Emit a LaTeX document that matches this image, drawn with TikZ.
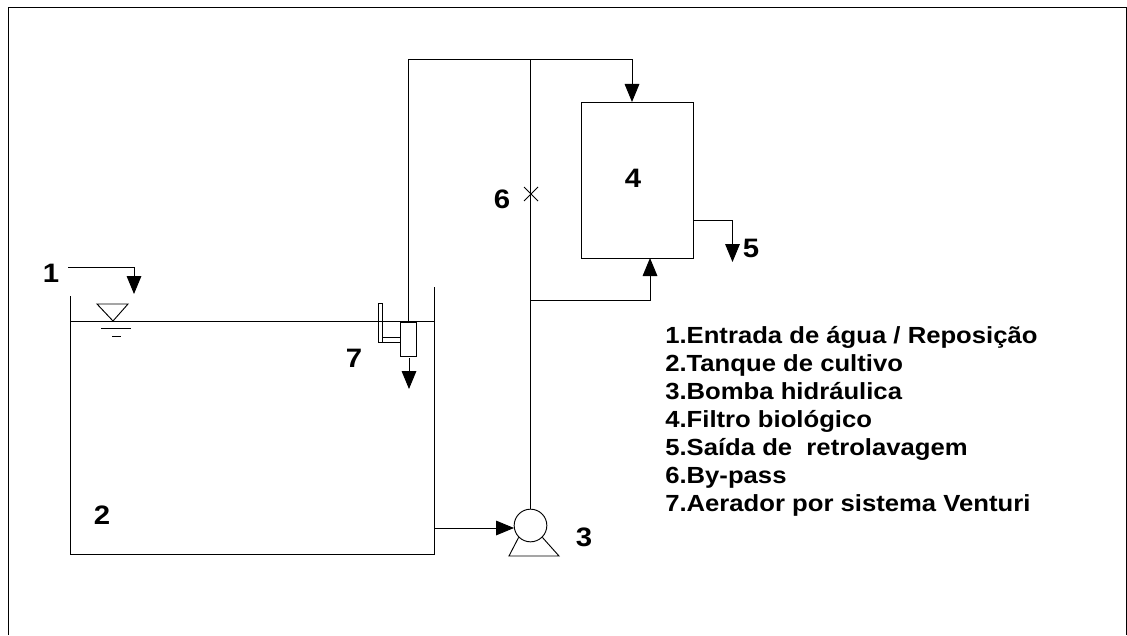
\documentclass[tikz,border=0pt]{standalone}
\usepackage{fontspec}
\setmainfont[FakeStretch=1.1]{Liberation Sans}
\usetikzlibrary{arrows.meta}
\tikzstyle{num} = [inner sep=0pt, font=\fontsize{20}{20}\selectfont\bfseries]
\tikzstyle{legend} = [inner sep=0pt, anchor=base west, font=\fontsize{17.5}{17.5}\selectfont\bfseries]
\tikzstyle{unit} = [rectangle, draw=black, fill=white, inner sep=0pt, line width=0.7pt]
\tikzstyle{pipe} = [line width=0.7pt]
\tikzstyle{edge} = [line width=0.7pt, -{Triangle[length=13.5pt,width=11pt]}]

\begin{document}
\begin{tikzpicture}[x=0.75pt, y=-0.75pt]
\useasboundingbox (0,0) rectangle (1127,635);

% moldura
\draw [line width=0.75pt] (8,635) -- (8,8) -- (1126,8) -- (1126,635);

% tanque
\coordinate (tankTL) at (70,296);
\coordinate (tankBL) at (70,554);
\coordinate (tankBR) at (434,554);
\coordinate (tankTR) at (434,287);
\draw [pipe] (tankTL) -- (tankBL) -- (tankBR) -- (tankTR);
\coordinate (levelL) at (70,321);
\coordinate (levelR) at (434,321);
\draw [pipe] (levelL) -- (levelR);

% nivel
\coordinate (triA) at (97,304);
\coordinate (triB) at (128,304);
\coordinate (triC) at (113,321);
\draw [pipe] (triA) -- (triB) -- (triC) -- cycle;
\coordinate (lineA) at (101,328);
\coordinate (lineB) at (131,328);
\coordinate (lineC) at (112,336);
\coordinate (lineD) at (121,336);
\draw [pipe] (lineA) -- (lineB);
\draw [pipe] (lineC) -- (lineD);

% filtro
\node (4) [unit, minimum width=84pt, minimum height=117pt] at (637.3,180) {};
\node (n4) [num] at (633,178) {4};

% bomba
\node (3) [circle, draw=black, pipe, fill=white, inner sep=0pt, minimum size=24.5pt] at (530.5,525.5) {};
\coordinate (baseL) at (509,556);
\coordinate (baseR) at (559,556);
\draw [pipe] (3.225) -- (baseL) -- (baseR) -- (3.-45);

% venturi
\node (ven) [unit, minimum width=11.5pt, minimum height=25.5pt] at (408.3,339) {};
\draw [pipe] (378.5,303) rectangle (382.5,342);
\draw [pipe] (382.5,337) rectangle (400.7,342);

% tubulacao
\coordinate (top) at (530.5,59.5);
\coordinate (bypass) at (530.5,300);
\coordinate (in1) at (68,267);
\coordinate (in1end) at (134,294);
\coordinate (tankOut) at (434,528);
\coordinate (pumpIn) at (514,528);
\coordinate (out4) at (694,220);
\coordinate (out5) at (732.5,262);
\coordinate (in4top) at (632,102);
\coordinate (in4bot) at (650,258);
\coordinate (venOut) at (409,358);
\coordinate (venDown) at (409,389);

\draw [pipe] (3.north) -- (top);
\draw [pipe] (ven.north) |- (top);
\draw [edge] (top) -| (in4top);
\draw [edge] (bypass) -| (in4bot);
\draw [edge] (out4) -| (out5);
\draw [edge] (in1) -| (in1end);
\draw [edge] (venOut) -- (venDown);
\draw [edge] (tankOut) -- (pumpIn);

% valvula
\draw [line width=0.6pt] (524,187) -- (538,201);
\draw [line width=0.6pt] (538,187) -- (524,201);

% numeros
\node (n1) [num] at (51,273) {1};
\node (n2) [num] at (102,515) {2};
\node (n3) [num] at (584,537) {3};
\node (n5) [num] at (751,248) {5};
\node (n6) [num] at (502,199) {6};
\node (n7) [num] at (354,358) {7};

% legenda
\node (l1) [legend] at (665,343) {1.Entrada de água / Reposição};
\node (l2) [legend] at (665,371) {2.Tanque de cultivo};
\node (l3) [legend] at (665,399) {3.Bomba hidráulica};
\node (l4) [legend] at (665,427) {4.Filtro biológico};
\node (l5) [legend] at (665,455) {5.Saída de \ retrolavagem};
\node (l6) [legend] at (665,483) {6.By-pass};
\node (l7) [legend] at (665,511) {7.Aerador por sistema Venturi};
\end{tikzpicture}
\end{document}
